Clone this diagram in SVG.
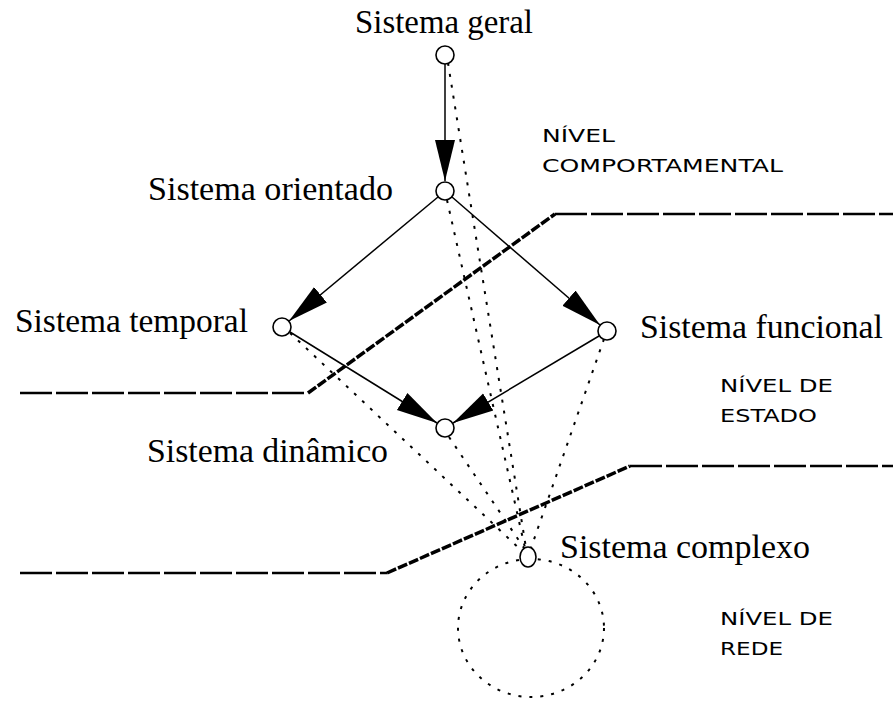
<svg xmlns="http://www.w3.org/2000/svg" width="893" height="703" viewBox="0 0 893 703">
  <style>
    .node { fill: #ffffff; stroke: #000000; stroke-width: 1.6; }
    .name { font-family: "Liberation Serif", "Times New Roman", serif; font-size: 33px; fill: #000000; }
    .level { font-family: "DejaVu Sans", "Liberation Sans", sans-serif; font-size: 17px; fill: #000000; }
    .arrow { fill: none; stroke: #000000; stroke-width: 1.5; marker-end: url(#head); }
    .dotted { fill: none; stroke: #000000; stroke-width: 2; stroke-dasharray: 3 8; }
    .bound { fill: none; stroke: #000000; stroke-width: 2.5; stroke-dasharray: 32 4; }
    .slope { fill: none; stroke: #000000; stroke-width: 3.5; stroke-dasharray: 10 2; }
  </style>
  <defs>
    <marker id="head" markerUnits="userSpaceOnUse" viewBox="0 -11 42 22" markerWidth="42" markerHeight="22" refX="41" refY="0" orient="auto">
      <path d="M0,-10 L41,0 L0,10 Z" fill="#000000"/>
    </marker>
  </defs>

  <!-- level boundaries -->
  <g id="boundaries">
    <path class="bound" d="M20,393 H308"/>
    <path class="slope" d="M308,393 L555,214"/>
    <path class="bound" d="M555,214 H893"/>
    <path class="bound" d="M20,573 H387"/>
    <path class="slope" d="M387,573 L630,466"/>
    <path class="bound" d="M630,466 H893"/>
  </g>

  <!-- connectors -->
  <g id="connectors">
    <path class="dotted" d="M448,63 L526,548"/>
    <path class="dotted" d="M447,200 L525,548"/>
    <path class="dotted" d="M290,333 L522,551"/>
    <path class="dotted" d="M604,339 L531,548"/>
    <path class="dotted" d="M449,437 L524,548"/>
    <path class="arrow" d="M445,64 L445,181"/>
    <path class="arrow" d="M438,197 L289,321"/>
    <path class="arrow" d="M452,197 L600,325"/>
    <path class="arrow" d="M290,332 L437,423"/>
    <path class="arrow" d="M599,336 L453,423"/>
  </g>

  <!-- network boundary -->
  <ellipse id="rede" cx="531" cy="628" rx="73" ry="69" class="dotted"/>

  <g id="geral">
    <circle class="node" cx="445" cy="55" r="9"/>
    <text class="name" x="355" y="33" textLength="178" lengthAdjust="spacingAndGlyphs">Sistema geral</text>
  </g>
  <g id="orientado">
    <circle class="node" cx="445" cy="191" r="9"/>
    <text class="name" x="148" y="200" textLength="245" lengthAdjust="spacingAndGlyphs">Sistema orientado</text>
  </g>
  <g id="temporal">
    <circle class="node" cx="282" cy="327" r="9"/>
    <text class="name" x="15" y="332" textLength="233" lengthAdjust="spacingAndGlyphs">Sistema temporal</text>
  </g>
  <g id="funcional">
    <circle class="node" cx="607" cy="331" r="9"/>
    <text class="name" x="640" y="338" textLength="243" lengthAdjust="spacingAndGlyphs">Sistema funcional</text>
  </g>
  <g id="dinamico">
    <circle class="node" cx="445" cy="428" r="9"/>
    <text class="name" x="147" y="462" textLength="241" lengthAdjust="spacingAndGlyphs">Sistema dinâmico</text>
  </g>
  <g id="complexo">
    <ellipse class="node" cx="528" cy="557" rx="8" ry="10"/>
    <text class="name" x="560" y="558" textLength="250" lengthAdjust="spacingAndGlyphs">Sistema complexo</text>
  </g>

  <!-- level names -->
  <g id="nivel-comportamental">
    <text class="level" x="542" y="142" textLength="73" lengthAdjust="spacingAndGlyphs">NÍVEL</text>
    <text class="level" x="542" y="172" textLength="241" lengthAdjust="spacingAndGlyphs">COMPORTAMENTAL</text>
  </g>
  <g id="nivel-estado">
    <text class="level" x="720" y="392" textLength="113" lengthAdjust="spacingAndGlyphs">NÍVEL DE</text>
    <text class="level" x="720" y="422" textLength="97" lengthAdjust="spacingAndGlyphs">ESTADO</text>
  </g>
  <g id="nivel-rede">
    <text class="level" x="720" y="625" textLength="113" lengthAdjust="spacingAndGlyphs">NÍVEL DE</text>
    <text class="level" x="720" y="655" textLength="63" lengthAdjust="spacingAndGlyphs">REDE</text>
  </g>
</svg>
